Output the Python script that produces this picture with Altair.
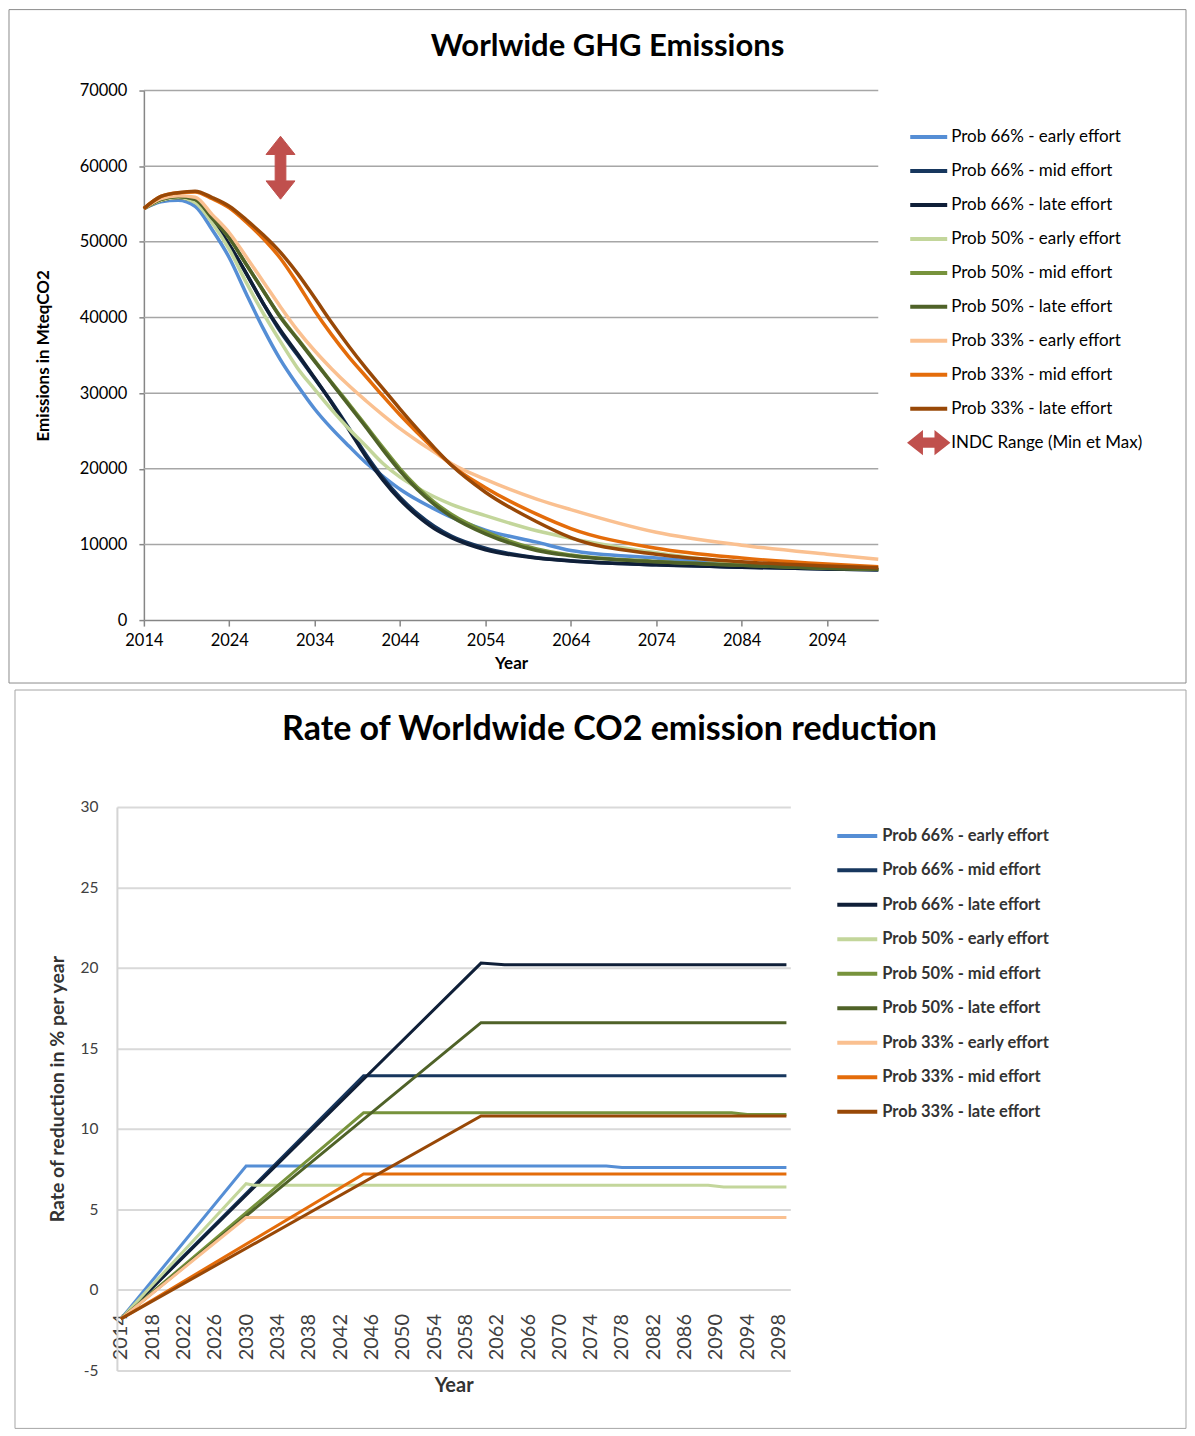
import altair as alt
import pandas as pd

FONT = "Lato"

SERIES = [
    "Prob 66% - early effort", "Prob 66% - mid effort", "Prob 66% - late effort",
    "Prob 50% - early effort", "Prob 50% - mid effort", "Prob 50% - late effort",
    "Prob 33% - early effort", "Prob 33% - mid effort", "Prob 33% - late effort",
]
COLORS = ["#558ED5", "#17375E", "#0F1F38", "#C3D69B", "#77933C", "#4F6228",
          "#FAC090", "#E46C0A", "#984807"]
INDC_LABEL = "INDC Range (Min et Max)"
INDC_COLOR = "#C0504D"

# ---------------- Worldwide GHG emissions (MteqCO2) ----------------
GHG_YEARS = [2014, 2016, 2018, 2020, 2022, 2024, 2026, 2028, 2030, 2032, 2034, 2036, 2038,
             2040, 2042, 2044, 2046, 2048, 2050, 2054, 2060, 2064, 2074, 2084, 2094, 2100]
ghg_66_early = [54400, 55300, 55500, 54700, 51600, 47900, 43100, 38500, 34400, 31000, 27900, 25300,
                23000, 20800, 19000, 17300, 15900, 14700, 13600, 11900, 10300, 9200, 8200, 7350,
                6900, 6700]
ghg_66_mid = [54400, 55500, 55850, 55300, 52800, 49600, 45800, 41800, 38100, 35000, 31900, 28800,
              25400, 21900, 18800, 16200, 14100, 12400, 11100, 9500, 8250, 7850, 7300, 7000,
              6750, 6650]
ghg_66_late = [54400, 55500, 55850, 55300, 52800, 49600, 45800, 41800, 38300, 35200, 32000, 28700,
               25200, 21600, 18500, 15900, 13800, 12100, 10900, 9300, 8200, 7800, 7300, 7000,
               6750, 6650]
ghg_50_early = [54400, 55500, 55850, 55200, 52500, 49000, 44600, 40500, 36800, 33300, 30500, 27800,
                25300, 23000, 20700, 18900, 17500, 16300, 15300, 13800, 11800, 10800, 8900, 7500,
                6950, 6700]
ghg_50_mid = [54400, 55600, 56000, 55600, 53200, 50500, 47000, 43500, 40100, 37200, 34300, 31400,
              28600, 25700, 22800, 20000, 17600, 15600, 14000, 11700, 9400, 8600, 7750, 7250,
              6850, 6700]
ghg_50_late = [54400, 55600, 56000, 55600, 53100, 50500, 47000, 43500, 40000, 37100, 34200, 31300,
               28400, 25500, 22500, 19700, 17300, 15300, 13700, 11400, 9200, 8500, 7700, 7250,
               6850, 6700]
ghg_33_early = [54400, 55700, 56100, 55900, 53600, 51200, 48000, 44700, 41400, 38300, 35600, 33200,
                31000, 29000, 27100, 25300, 23700, 22200, 20700, 18600, 16000, 14600, 11600, 9900,
                8700, 8050]
ghg_33_mid = [54400, 56000, 56500, 56600, 55700, 54500, 52600, 50400, 47800, 44500, 40900, 37700,
              34800, 32200, 29600, 27100, 24800, 22600, 20500, 17500, 14000, 12100, 9500, 8200,
              7400, 7050]
ghg_33_late = [54400, 56000, 56500, 56700, 55850, 54700, 52900, 50900, 48600, 45800, 42600, 39300,
               36200, 33300, 30600, 27900, 25300, 22800, 20500, 16900, 13000, 10900, 8700, 7700,
               7150, 6900]
GHG_VALUES = [ghg_66_early, ghg_66_mid, ghg_66_late, ghg_50_early, ghg_50_mid, ghg_50_late,
              ghg_33_early, ghg_33_mid, ghg_33_late]
GHG_TICKS = [0, 10000, 20000, 30000, 40000, 50000, 60000, 70000]
GHG_YEAR_TICKS = [2014, 2024, 2034, 2044, 2054, 2064, 2074, 2084, 2094]

INDC_YEAR = 2030
INDC_MIN = 55600
INDC_MAX = 64000

# ---------------- Rate of reduction (% per year) ----------------
rate_66_early_years = [2014, 2030, 2076, 2078, 2099]
rate_66_early = [-1.8, 7.7, 7.7, 7.6, 7.6]
rate_66_mid_years = [2014, 2045, 2099]
rate_66_mid = [-1.8, 13.3, 13.3]
rate_66_late_years = [2014, 2060, 2063, 2099]
rate_66_late = [-1.8, 20.3, 20.2, 20.2]
rate_50_early_years = [2014, 2030, 2031, 2089, 2091, 2099]
rate_50_early = [-1.8, 6.6, 6.5, 6.5, 6.4, 6.4]
rate_50_mid_years = [2014, 2045, 2092, 2094, 2099]
rate_50_mid = [-1.8, 11.0, 11.0, 10.9, 10.9]
rate_50_late_years = [2014, 2060, 2099]
rate_50_late = [-1.8, 16.6, 16.6]
rate_33_early_years = [2014, 2030, 2099]
rate_33_early = [-1.8, 4.5, 4.5]
rate_33_mid_years = [2014, 2045, 2099]
rate_33_mid = [-1.8, 7.2, 7.2]
rate_33_late_years = [2014, 2060, 2099]
rate_33_late = [-1.8, 10.8, 10.8]
RATE_YEARS = [rate_66_early_years, rate_66_mid_years, rate_66_late_years,
              rate_50_early_years, rate_50_mid_years, rate_50_late_years,
              rate_33_early_years, rate_33_mid_years, rate_33_late_years]
RATE_VALUES = [rate_66_early, rate_66_mid, rate_66_late, rate_50_early, rate_50_mid, rate_50_late,
               rate_33_early, rate_33_mid, rate_33_late]
RATE_TICKS = [-5, 0, 5, 10, 15, 20, 25, 30]
RATE_YEAR_TICKS = list(range(2014, 2099, 4))

# ---------------- tables ----------------
ghg_df = pd.DataFrame([
    {"series": s, "order": i, "year": y, "value": v}
    for i, (s, vals) in enumerate(zip(SERIES, GHG_VALUES))
    for y, v in zip(GHG_YEARS, vals)
])
indc_df = pd.DataFrame([{"series": INDC_LABEL, "year": INDC_YEAR,
                         "mid": (INDC_MIN + INDC_MAX) / 2}])
grid_df = pd.DataFrame({"value": GHG_TICKS[1:]})
rate_df = pd.DataFrame([
    {"series": s, "order": i, "year": y, "value": v}
    for i, (s, ys, vals) in enumerate(zip(SERIES, RATE_YEARS, RATE_VALUES))
    for y, v in zip(ys, vals)
])
frame_df = pd.DataFrame({"k": [0]})

ARROW = ("M-1,0L-0.42,-0.46L-0.42,-0.17L0.42,-0.17L0.42,-0.46L1,0L0.42,0.46"
         "L0.42,0.17L-0.42,0.17L-0.42,0.46Z")

legend_domain = SERIES + [INDC_LABEL]
color_top = alt.Scale(domain=legend_domain, range=COLORS + [INDC_COLOR])
shape_top = alt.Scale(domain=legend_domain, range=["stroke"] * 9 + [ARROW])

top_legend = alt.Legend(
    title=None, orient="none", legendX=792, legendY=26, symbolType="stroke",
    symbolSize=1369, symbolStrokeWidth=4, labelFont=FONT, labelFontSize=17,
    labelFontWeight="normal", labelColor="black", labelOffset=2, rowPadding=5,
    padding=0, labelLimit=400,
)

# top chart: plot group starts 27px left of the y axis so both panels share one origin
x_top = alt.X("year:Q", scale=alt.Scale(domain=[2014, 2100], range=[27, 762], nice=False, zero=False),
              axis=alt.Axis(values=GHG_YEAR_TICKS, format="d", title="Year",
                            grid=False, domainColor="#868686", domainWidth=1.5,
                            tickColor="#868686", tickWidth=1.5, tickSize=6,
                            labelFont=FONT, labelFontSize=16.5, labelColor="black",
                            labelPadding=6, labelFlush=False, labelOverlap=False,
                            titleFont=FONT, titleFontSize=17, titleFontWeight="bold",
                            titleColor="black", titlePadding=7))
y_top = alt.Y("value:Q", scale=alt.Scale(domain=[0, 70000], nice=False),
              axis=alt.Axis(values=GHG_TICKS, format="d", offset=-27,
                            title="Emissions in MteqCO2", grid=False,
                            domainColor="#868686", domainWidth=1.5, tickColor="#868686",
                            tickWidth=1.5, tickSize=5, labelFont=FONT, labelFontSize=16.5,
                            labelColor="black", labelPadding=12, titleFont=FONT,
                            titleFontSize=17, titleFontWeight="bold", titleColor="black",
                            titlePadding=27))

frame_top = alt.Chart(frame_df).mark_rect(fill="transparent", stroke="#8C8C8C", strokeWidth=1).encode(
    x=alt.value(-108), x2=alt.value(1070), y=alt.value(-81), y2=alt.value(593))

grid_top = alt.Chart(grid_df).mark_rule(color="#A6A6A6", strokeWidth=1.5).encode(
    x=alt.datum(2014), x2=alt.datum(2100), y=alt.Y("value:Q"))

lines_top = alt.Chart(ghg_df).mark_line(interpolate="monotone", strokeWidth=3.5).encode(
    x=x_top, y=y_top,
    color=alt.Color("series:N", scale=color_top, sort=legend_domain, legend=top_legend),
    order="order:Q",
)

indc_top = alt.Chart(indc_df).mark_point(filled=False, fill=INDC_COLOR, strokeWidth=1,
                                         angle=90, size=3969, opacity=1).encode(
    x="year:Q", y="mid:Q",
    color=alt.Color("series:N", scale=color_top, sort=legend_domain, legend=top_legend),
    shape=alt.Shape("series:N", scale=shape_top, sort=legend_domain, legend=top_legend),
)

top = alt.layer(frame_top, grid_top, lines_top, indc_top).properties(
    width=762, height=530,
    title=alt.Title("Worlwide GHG Emissions", font=FONT, fontSize=31, fontWeight="bold",
                    color="black", offset=-54, frame="group", anchor="middle", dx=110),
)

# ---------------- bottom chart ----------------
color_bot = alt.Scale(domain=SERIES, range=COLORS)
bot_legend = alt.Legend(
    title=None, orient="none", legendX=719, legendY=7, symbolType="stroke",
    symbolSize=1600, symbolStrokeWidth=4, labelFont=FONT, labelFontSize=16.5,
    labelFontWeight="bold", labelColor="#333333", labelOffset=3, rowPadding=3.5,
    padding=0, labelLimit=400,
)

x_bot = alt.X("year:Q", scale=alt.Scale(domain=[2013.5, 2099.5], nice=False, zero=False),
              axis=alt.Axis(values=RATE_YEAR_TICKS, format="d", title="Year",
                            labelAngle=-90, offset=-81, ticks=False, domain=False, grid=False,
                            labelFont=FONT, labelFontSize=20, labelColor="#404040",
                            labelPadding=24, labelFlush=False, labelOverlap=False,
                            titleFont=FONT, titleFontSize=20, titleFontWeight="bold",
                            titleColor="#333333", titlePadding=16))
y_bot = alt.Y("value:Q", scale=alt.Scale(domain=[-5, 30], nice=False, zero=False),
              axis=alt.Axis(values=RATE_TICKS, labelExpr="'' + datum.value",
                            title="Rate of reduction in % per year", ticks=False,
                            domainColor="#D4D4D4", domainWidth=2, gridColor="#D9D9D9",
                            gridWidth=2, labelFont=FONT, labelFontSize=15.5,
                            labelColor="#404040", labelPadding=19, titleFont=FONT,
                            titleFontSize=19.5, titleFontWeight="bold", titleColor="#333333",
                            titlePadding=12))

frame_bot = alt.Chart(frame_df).mark_rect(fill="transparent", stroke="#A6A6A6", strokeWidth=1).encode(
    x=alt.value(-102), x2=alt.value(1070), y=alt.value(-117), y2=alt.value(622))

lines_bot = alt.Chart(rate_df).mark_line(strokeWidth=3).encode(
    x=x_bot, y=y_bot,
    color=alt.Color("series:N", scale=color_bot, sort=SERIES, legend=bot_legend),
    order="order:Q",
)

bottom = alt.layer(frame_bot, lines_bot).properties(
    width=674, height=564,
    title=alt.Title("Rate of Worldwide CO2 emission reduction", font=FONT, fontSize=34,
                    fontWeight="bold", color="black", offset=-58, frame="group",
                    anchor="middle", dx=156),
)

chart = alt.concat(top, bottom, columns=1, spacing=5, padding=0).resolve_scale(
    color="independent", shape="independent", x="independent", y="independent"
).resolve_legend(color="independent", shape="independent").configure(
    font=FONT, view=alt.ViewConfig(stroke="transparent", strokeWidth=0)
)

chart.save("out.html", embed_options={"renderer": "svg", "actions": False})
